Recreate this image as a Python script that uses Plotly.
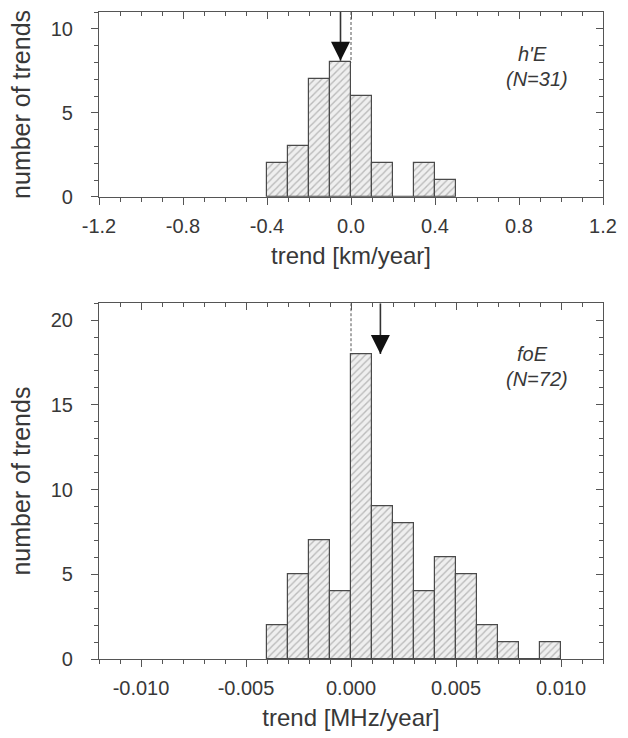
import plotly.graph_objects as go

# ---------------- data ----------------
# top panel: h'E trends [km/year]
he_bin_starts = [-0.4, -0.3, -0.2, -0.1, 0.0, 0.1, 0.2, 0.3, 0.4]
he_counts = [2, 3, 7, 8, 6, 2, 0, 2, 1]
he_bin_width = 0.1
he_mean = -0.05
he_arrow_tip = 8.1
he_ticks = [-1.2, -0.8, -0.4, 0.0, 0.4, 0.8, 1.2]
he_ticktext = ["-1.2", "-0.8", "-0.4", "0.0", "0.4", "0.8", "1.2"]
he_yticks = [0, 5, 10]

# bottom panel: foE trends [MHz/year]
fo_bin_starts = [-0.004, -0.003, -0.002, -0.001, 0.0, 0.001, 0.002, 0.003,
                 0.004, 0.005, 0.006, 0.007, 0.008, 0.009]
fo_counts = [2, 5, 7, 4, 18, 9, 8, 4, 6, 5, 2, 1, 0, 1]
fo_bin_width = 0.001
fo_mean = 0.0014
fo_arrow_tip = 18.0
fo_ticks = [-0.010, -0.005, 0.0, 0.005, 0.010]
fo_ticktext = ["-0.010", "-0.005", "0.000", "0.005", "0.010"]
fo_yticks = [0, 5, 10, 15, 20]

# ---------------- style ----------------
FONT = "Liberation Sans, Arial, Helvetica, sans-serif"
TXT = "#383838"
AX = "#555555"
BAR_LINE = "#4a4a4a"

fig = go.Figure()


def add_panel(starts, counts, width, mean, tip, xa, ya, ymax):
    centers = [s + width / 2 for s in starts]
    fig.add_trace(go.Bar(
        x=centers, y=counts, width=width, xaxis=xa, yaxis=ya,
        marker=dict(color="#efefef",
                    line=dict(color=BAR_LINE, width=1.2),
                    pattern=dict(shape="/", fgcolor="#858585", bgcolor="#efefef",
                                 size=5, solidity=0.28)),
        showlegend=False, hoverinfo="skip"))
    # dashed zero line down to the top of the bars touching zero
    zero_top = 0
    for s, c in zip(starts, counts):
        if abs(s) < 1e-12 or abs(s + width) < 1e-12:
            zero_top = max(zero_top, c)
    fig.add_trace(go.Scatter(
        x=[0, 0], y=[ymax, zero_top], mode="lines", xaxis=xa, yaxis=ya,
        line=dict(color="#555555", width=1, dash="3px,2px"),
        showlegend=False, hoverinfo="skip"))
    # mean arrow: shaft + head
    fig.add_trace(go.Scatter(
        x=[mean, mean], y=[ymax, tip], mode="lines", xaxis=xa, yaxis=ya,
        line=dict(color="#333333", width=1.6),
        showlegend=False, hoverinfo="skip"))
    fig.add_trace(go.Scatter(
        x=[mean], y=[tip], mode="markers", xaxis=xa, yaxis=ya,
        marker=dict(symbol="arrow-down", size=19, color="#111111",
                    line=dict(width=0)),
        showlegend=False, hoverinfo="skip"))


HE_YMAX = 11
FO_YMAX = 21
add_panel(he_bin_starts, he_counts, he_bin_width, he_mean, he_arrow_tip, "x", "y", HE_YMAX)
add_panel(fo_bin_starts, fo_counts, fo_bin_width, fo_mean, fo_arrow_tip, "x2", "y2", FO_YMAX)

# dummy traces for the mirrored (inward-tick) top/right axes
fig.add_trace(go.Scatter(x=[None], y=[None], xaxis="x3", yaxis="y3", showlegend=False))
fig.add_trace(go.Scatter(x=[None], y=[None], xaxis="x4", yaxis="y4", showlegend=False))

tickfont = dict(family=FONT, size=20, color=TXT)
titlefont = dict(family=FONT, size=24, color=TXT)
ytitlefont = dict(family=FONT, size=25, color=TXT)


def xax(rng, tv, tt, dt, title, anchor, overlay=None):
    d = dict(range=rng, showgrid=False, zeroline=False, showline=True,
             linecolor=AX, linewidth=1.2, tickcolor=AX, tickwidth=1.2, ticklen=7,
             anchor=anchor)
    if overlay is None:
        d.update(tickmode="array", tickvals=tv, ticktext=tt, ticks="outside",
                 tickfont=tickfont, ticklabelstandoff=4, ticklabeloverflow="allow",
                 title=dict(text=title, font=titlefont, standoff=11),
                 minor=dict(dtick=dt, tick0=rng[0], ticks="outside", ticklen=4,
                            tickcolor=AX, tickwidth=1.2, showgrid=False))
    else:
        d.update(overlaying=overlay, side="top", tickmode="array", tickvals=tv,
                 ticks="inside", showticklabels=False,
                 minor=dict(dtick=dt, tick0=rng[0], ticks="inside", ticklen=4,
                            tickcolor=AX, tickwidth=1.2, showgrid=False))
    return d


def yax(rng, tv, dom, anchor, overlay=None):
    d = dict(range=rng, showgrid=False, zeroline=False, showline=True,
             linecolor=AX, linewidth=1.2, tickcolor=AX, tickwidth=1.2, ticklen=7,
             anchor=anchor)
    if overlay is None:
        d.update(domain=dom, tickmode="array", tickvals=tv, ticks="outside",
                 tickfont=tickfont, ticklabelstandoff=14,
                 title=dict(text="number of trends", font=ytitlefont, standoff=12),
                 minor=dict(dtick=1, tick0=0, ticks="outside", ticklen=4,
                            tickcolor=AX, tickwidth=1.2, showgrid=False))
    else:
        d.update(overlaying=overlay, side="right", tickmode="array", tickvals=tv,
                 ticks="inside", showticklabels=False,
                 minor=dict(dtick=1, tick0=0, ticks="inside", ticklen=4,
                            tickcolor=AX, tickwidth=1.2, showgrid=False))
    return d


top_dom = [0.7143, 1.0]
bot_dom = [0.0, 0.5499]

fig.update_layout(
    width=628, height=738,
    margin=dict(l=99, r=11, t=12, b=75),
    paper_bgcolor="white", plot_bgcolor="white",
    bargap=0,
    font=dict(family=FONT, color=TXT),
    xaxis=xax([-1.2, 1.2], he_ticks, he_ticktext, 0.1, "trend [km/year]", "y"),
    yaxis=yax([0, HE_YMAX], he_yticks, top_dom, "x"),
    xaxis3=xax([-1.2, 1.2], he_ticks, he_ticktext, 0.1, None, "y", overlay="x"),
    yaxis3=yax([0, HE_YMAX], he_yticks, top_dom, "x", overlay="y"),
    xaxis2=xax([-0.012, 0.012], fo_ticks, fo_ticktext, 0.001, "trend [MHz/year]", "y2"),
    yaxis2=yax([0, FO_YMAX], fo_yticks, bot_dom, "x2"),
    xaxis4=xax([-0.012, 0.012], fo_ticks, fo_ticktext, 0.001, None, "y2", overlay="x2"),
    yaxis4=yax([0, FO_YMAX], fo_yticks, bot_dom, "x2", overlay="y2"),
)

ann_font = dict(family=FONT, size=20, color=TXT)
common = dict(showarrow=False, font=ann_font, xanchor="center", yanchor="middle")
fig.add_annotation(text="<i>h'E</i>", xref="x domain", yref="y domain",
                   x=0.860, y=0.772, **common)
fig.add_annotation(text="<i>(N=31)</i>", xref="x domain", yref="y domain",
                   x=0.870, y=0.636, **common)
fig.add_annotation(text="<i>foE</i>", xref="x2 domain", yref="y2 domain",
                   x=0.860, y=0.858, **common)
fig.add_annotation(text="<i>(N=72)</i>", xref="x2 domain", yref="y2 domain",
                   x=0.870, y=0.788, **common)

fig.write_html("out.html")
